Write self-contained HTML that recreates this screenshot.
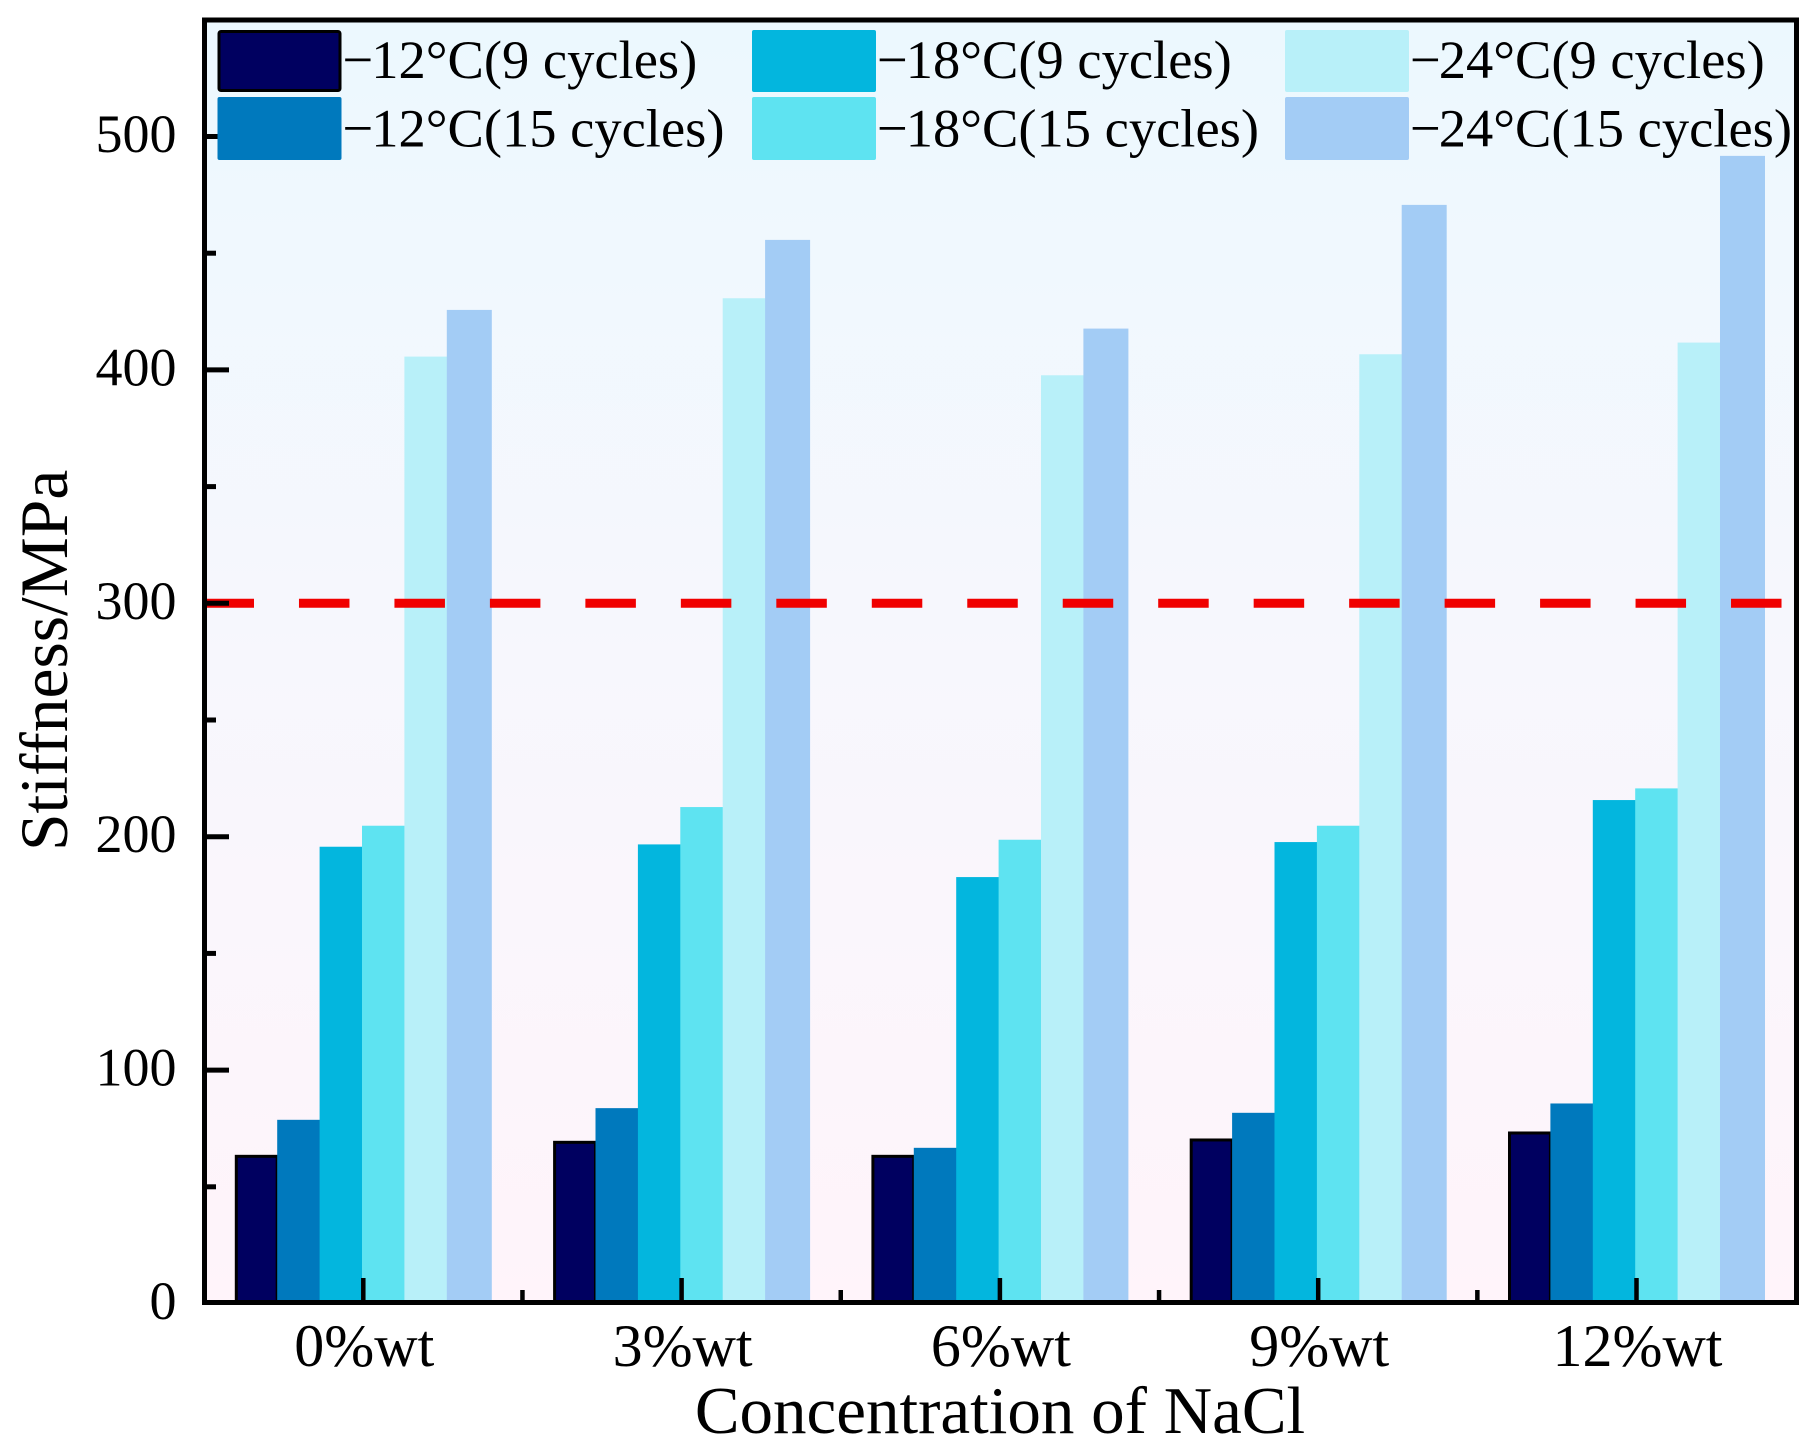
<!DOCTYPE html>
<html lang="en">
<head>
<meta charset="utf-8">
<title>Stiffness vs NaCl concentration</title>
<style>
html,body{margin:0;padding:0;background:#fff;width:1820px;height:1451px;overflow:hidden}
svg{display:block}
text{font-family:"Liberation Serif",serif;fill:#000}
</style>
</head>
<body>
<svg id="chart" xmlns="http://www.w3.org/2000/svg" width="1820" height="1451" viewBox="0 0 1820 1451">
<defs>
<linearGradient id="bg" x1="0" y1="0" x2="0" y2="1">
<stop offset="0" stop-color="#ecf8fe"/>
<stop offset="0.5" stop-color="#f7f7fd"/>
<stop offset="1" stop-color="#fff4fa"/>
</linearGradient>
</defs>
<rect x="205" y="20" width="1592" height="1283" fill="url(#bg)"/>
<g id="bars"></g>
<line id="refline" x1="203.5" x2="1782" stroke="#f00000" stroke-width="9" stroke-dasharray="50.5 44.97"/>
<g id="ticks"></g>
<rect x="204.5" y="20" width="1592" height="1282.5" fill="none" stroke="#000" stroke-width="5"/>
<g id="legend"></g>
<g id="labels"></g>
<text x="1000" y="1433" font-size="67" text-anchor="middle">Concentration of NaCl</text>
<text transform="translate(67,851) rotate(-90)" font-size="67.5">Stiffness/MPa</text>
</svg>
<script>
const categories = ["0%wt", "3%wt", "6%wt", "9%wt", "12%wt"];
const seriesPrefixes = ["−", "−", "−", "−", "−", "−"];
const seriesNames = ["12°C(9 cycles)", "12°C(15 cycles)", "18°C(9 cycles)", "18°C(15 cycles)", "24°C(9 cycles)", "24°C(15 cycles)"];
const seriesColors = ["#000060", "#0079bd", "#03b6de", "#5ee3f1", "#b8f0f9", "#a3ccf5"];
const cold12Cycles9 = [63.7, 69.7, 63.7, 70.7, 73.7];
const cold12Cycles15 = [78.7, 83.7, 66.7, 81.7, 85.7];
const cold18Cycles9 = [195.7, 196.7, 182.7, 197.7, 215.7];
const cold18Cycles15 = [204.7, 212.7, 198.7, 204.7, 220.7];
const cold24Cycles9 = [405.7, 430.7, 397.7, 406.7, 411.7];
const cold24Cycles15 = [425.7, 455.7, 417.7, 470.7, 491.7];
const seriesValues = [cold12Cycles9, cold12Cycles15, cold18Cycles9, cold18Cycles15, cold24Cycles9, cold24Cycles15];
const yMajorTicks = [0, 100, 200, 300, 400, 500];
const yMinorTicks = [50, 150, 250, 350, 450];
const referenceValue = 300;

const NS = "http://www.w3.org/2000/svg";
const yBase = 1303.5;
const yScale = v => yBase - v * 2.334;
const xScale = i => 363.3 + i * 318.3;
const barWidth = 42.4;
const lastBarWidth = 45;
const make = (parent, tag, attrs) => {
  const el = document.createElementNS(NS, tag);
  for (const k in attrs) el.setAttribute(k, attrs[k]);
  parent.appendChild(el);
  return el;
};

const barsG = document.getElementById("bars");
const ticksG = document.getElementById("ticks");
const labelsG = document.getElementById("labels");
const legendG = document.getElementById("legend");

const refline = document.getElementById("refline");
refline.setAttribute("y1", yScale(referenceValue));
refline.setAttribute("y2", yScale(referenceValue));

seriesValues.forEach((vals, s) => {
  vals.forEach((v, c) => {
    const left = xScale(c) - 128.5 + s * barWidth;
    const w = s === 5 ? lastBarWidth : barWidth;
    const top = yScale(v);
    const bar = make(barsG, "rect", {x: left, y: top, width: w + (s < 5 ? 0.4 : 0), height: yBase - top - 1, fill: seriesColors[s]});
    
    
    if (s === 0) {
      bar.setAttribute("stroke", "#000");
      bar.setAttribute("stroke-width", "3");
      bar.setAttribute("x", left + 1.5);
      bar.setAttribute("y", top + 1.5);
      bar.setAttribute("width", w - 1.5);
      bar.setAttribute("height", yBase - top - 3);
    }
  });
});

yMajorTicks.forEach(v => {
  if (v > 0) {
    const t = make(ticksG, "line", {x1: 205, x2: 229, y1: yScale(v), y2: yScale(v), stroke: "#000", "stroke-width": 5});
    
    
  }
  const l = make(labelsG, "text", {x: 176.5, y: yScale(v) + 15.5, "font-size": 54, "text-anchor": "end"});
  
  
  l.textContent = v;
});
yMinorTicks.forEach(v => {
  const t = make(ticksG, "line", {x1: 205, x2: 216, y1: yScale(v), y2: yScale(v), stroke: "#000", "stroke-width": 5});
  
  
});
categories.forEach((cat, i) => {
  const x = xScale(i);
  const t = make(ticksG, "line", {x1: x, x2: x, y1: 1278, y2: 1303, stroke: "#000", "stroke-width": 4.5});
  
  
  if (i < categories.length - 1) {
    const mx = (xScale(i) + xScale(i + 1)) / 2;
    const m = make(ticksG, "line", {x1: mx, x2: mx, y1: 1290, y2: 1303, stroke: "#000", "stroke-width": 4.5});
    
    
  }
  const l = make(labelsG, "text", {x: x + 1, y: 1366, "font-size": 60, "text-anchor": "middle"});
  
  
  l.textContent = cat;
});

const legendCols = [217.5, 752, 1285];
const legendRows = [30, 97];
seriesNames.forEach((name, s) => {
  const col = Math.floor(s / 2), row = s % 2;
  const x = legendCols[col], y = legendRows[row];
  const h = row === 0 ? 62 : 63;
  const sw = make(legendG, "rect", {x: x, y: y, width: 124, height: h, rx: 2, fill: seriesColors[s]});
  
  
  if (s === 0) {
    sw.setAttribute("stroke", "#000");
    sw.setAttribute("stroke-width", "3");
    sw.setAttribute("x", x + 1.5);
    sw.setAttribute("y", y + 1.5);
    sw.setAttribute("width", 121);
    sw.setAttribute("height", h - 3);
  }
  const t = make(legendG, "text", {x: x + 125, y: row === 0 ? 78 : 146.7, "font-size": 54.5});
  
  
  t.textContent = seriesPrefixes[s];
  const ts = make(t, "tspan", {dx: -2});
  ts.textContent = name;
});
</script>
</body>
</html>
